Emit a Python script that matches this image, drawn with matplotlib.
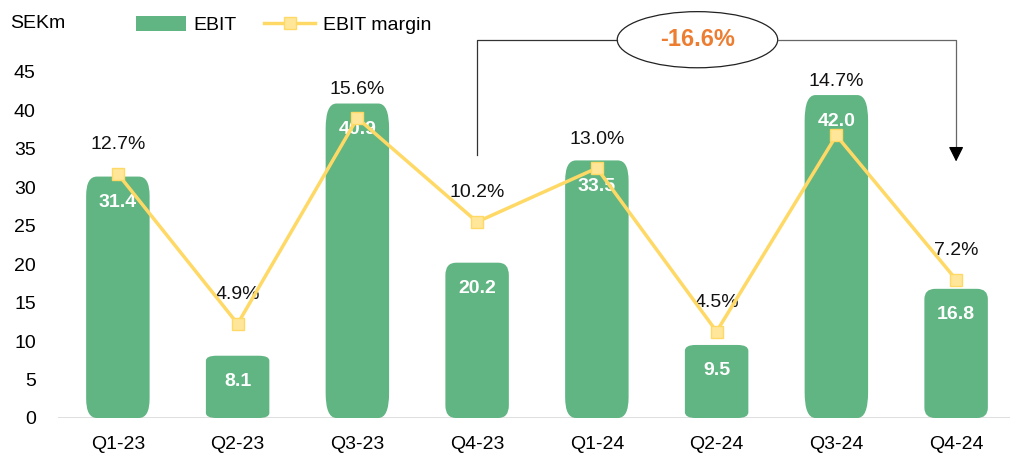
import numpy as np
import matplotlib
matplotlib.use("Agg")
import matplotlib.pyplot as plt
from matplotlib.patches import FancyBboxPatch, Ellipse, Patch
from matplotlib.lines import Line2D

plt.rcParams['font.family'] = ['Liberation Sans', 'DejaVu Sans']

quarters = ['Q1-23', 'Q2-23', 'Q3-23', 'Q4-23', 'Q1-24', 'Q2-24', 'Q3-24', 'Q4-24']
ebit = [31.4, 8.1, 40.9, 20.2, 33.5, 9.5, 42.0, 16.8]
margin = [12.7, 4.9, 15.6, 10.2, 13.0, 4.5, 14.7, 7.2]
change_label = '-16.6%'

green = '#60b582'
yellow = '#ffd966'
orange = '#ed7d31'

W, H = 1010, 455
fig = plt.figure(figsize=(W / 100, H / 100), dpi=100)
ax = fig.add_axes([58 / W, (H - 418) / H, (W - 58) / W, (418 - 72) / H])

x = np.arange(len(quarters))
ax.set_xlim(-0.5, 7.45)
ax.set_ylim(0, 45)
px_per_unit = (418 - 72) / 45

# rounded bars
bw = 0.53
r = 0.09
for xi, v in zip(x, ebit):
    asp = 0.08 * v / r
    p = FancyBboxPatch((xi - bw / 2, 0), bw, v,
                       boxstyle=f"round,pad=0,rounding_size={r}",
                       mutation_aspect=asp, fc=green, ec='none', zorder=2)
    ax.add_patch(p)
    ax.annotate(f"{v:.1f}", (xi, v), xytext=(0, -26), textcoords='offset pixels',
                ha='center', va='center', color='white', fontsize=14,
                fontweight='bold', zorder=3)

ax.axhline(0, color='#d9d9d9', lw=1.2, zorder=1)
for s in ax.spines.values():
    s.set_visible(False)
ax.set_yticks(np.arange(0, 46, 5))
ax.set_xticks(x)
ax.set_xticklabels(quarters)
ax.tick_params(axis='both', length=0, labelsize=14)
ax.tick_params(axis='y', pad=16)
ax.tick_params(axis='x', pad=13)

# margin line on hidden secondary axis
ax2 = ax.twinx()
ax2.set_ylim(0, 18)
ax2.set_xlim(ax.get_xlim())
ax2.axis('off')
ax2.plot(x, margin, color=yellow, lw=2.5, marker='s', ms=9,
         mfc='#ffe699', mec=yellow, mew=1, zorder=4)
for xi, m, v in zip(x, margin, ebit):
    # label sits above the marker, or above the bar top when that is higher
    m_px = m * (418 - 72) / 18
    b_px = v * px_per_unit
    lab_px = max(m_px + 29, b_px + 14)
    ax2.annotate(f"{m:.1f}%", (xi, m), xytext=(0, lab_px - m_px),
                 textcoords='offset pixels', ha='center', va='center',
                 fontsize=14, color='#111111')

# bracket with change annotation
y_top = 49.2
ex, ew, eh = 4.84, 1.34, 7.3
ax.plot([3, 3, ex - ew / 2], [34.2, y_top, y_top], color='#333333', lw=0.9,
        clip_on=False)
ax.plot([ex + ew / 2, 7, 7], [y_top, y_top, 35.2], color='#666666', lw=0.9,
        clip_on=False)
ax.annotate('', xy=(7, 33.0), xytext=(7, 35.4),
            arrowprops=dict(arrowstyle='-|>,head_length=0.9,head_width=0.45',
                            color='black', lw=0.9), annotation_clip=False)
ax.add_patch(Ellipse((ex, y_top), ew, eh, fc='white', ec='#222222', lw=0.9,
                     clip_on=False))
ax.text(ex, y_top, change_label, ha='center', va='center', color=orange,
        fontsize=17, fontweight='bold', clip_on=False)

# legend and unit
handles = [Patch(fc=green, ec='none'),
           Line2D([], [], color=yellow, lw=2.5, marker='s', ms=9,
                  mfc='#ffe699', mec=yellow)]
fig.legend(handles, ['EBIT', 'EBIT margin'], loc='center left',
           bbox_to_anchor=(118 / W, 1 - 25 / H), ncol=2, frameon=False,
           fontsize=14, handlelength=2.6, handleheight=0.85,
           columnspacing=1.4, handletextpad=0.4)
fig.text(10 / W, 1 - 23 / H, 'SEKm', ha='left', va='center', fontsize=14)

fig.savefig('out.png', dpi=100)
